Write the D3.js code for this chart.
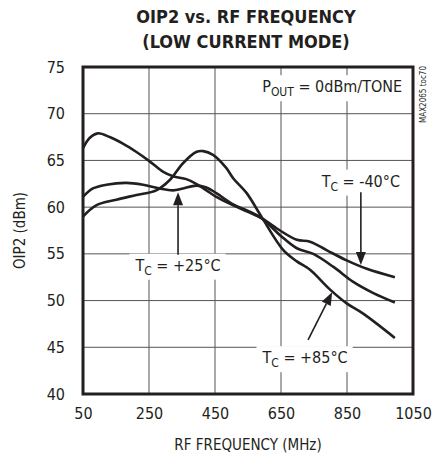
<!DOCTYPE html>
<html>
<head>
<meta charset="utf-8">
<script src="https://cdn.jsdelivr.net/npm/d3@7"></script>
<style>
  body { margin: 0; background: #fff; }
  svg { display: block; }
  text { font-family: 'Liberation Sans Narrow', 'DejaVu Sans Condensed', 'Roboto', sans-serif; fill: #231f20; }
</style>
</head>
<body>
<div id="chart"></div>
<script>
// values (MHz, dBm)
const freqM40 = [50, 70, 95, 131, 171, 212, 252, 292, 323, 363, 393, 424, 454, 505, 550, 592, 647, 698, 738, 788, 849, 910, 995];
const oipM40 = [66.3, 67.4, 67.9, 67.5, 66.8, 65.9, 64.9, 63.8, 63.3, 63.0, 62.5, 61.8, 61.1, 60.2, 59.5, 58.8, 57.5, 56.5, 56.3, 55.4, 54.3, 53.4, 52.5];

const freqP25 = [50, 80, 121, 181, 232, 282, 323, 353, 393, 424, 454, 505, 550, 592, 647, 698, 748, 809, 869, 930, 995];
const oipP25 = [61.1, 62.0, 62.4, 62.6, 62.4, 62.0, 61.8, 62.0, 62.3, 62.1, 61.5, 60.3, 59.6, 58.8, 57.0, 55.6, 55.0, 53.6, 52.0, 50.8, 49.8];

const freqP85 = [50, 90, 151, 212, 272, 313, 353, 393, 414, 444, 484, 505, 546, 592, 657, 698, 738, 798, 849, 899, 995];
const oipP85 = [59.0, 60.2, 60.8, 61.3, 61.8, 62.9, 64.7, 65.9, 66.0, 65.6, 64.2, 63.1, 61.5, 58.9, 55.4, 54.2, 53.3, 51.2, 49.7, 48.6, 46.0];

const xTicks = [50, 250, 450, 650, 850, 1050];
const yTicks = [40, 45, 50, 55, 60, 65, 70, 75];

const state = {
  width: 443,
  height: 454,
  margin: { top: 67, right: 30, bottom: 60, left: 83 },
  ink: '#231f20',
};

const svg = d3.select('#chart').append('svg')
  .attr('width', state.width)
  .attr('height', state.height);

const x = d3.scaleLinear().domain([50, 1050])
  .range([state.margin.left, state.width - state.margin.right]);
const y = d3.scaleLinear().domain([40, 75])
  .range([state.height - state.margin.bottom, state.margin.top]);

// title
svg.append('text')
  .attr('x', 246).attr('y', 23)
  .attr('text-anchor', 'middle')
  .style('font-size', '18px').style('font-weight', 'bold')
  .text('OIP2 vs. RF FREQUENCY');
svg.append('text')
  .attr('x', 246).attr('y', 48)
  .attr('text-anchor', 'middle')
  .style('font-size', '18px').style('font-weight', 'bold')
  .text('(LOW CURRENT MODE)');

// grid
const grid = svg.append('g').attr('class', 'grid');
grid.selectAll('line.h')
  .data(yTicks.slice(1, -1))
  .enter().append('line')
  .attr('x1', x(50)).attr('x2', x(1050))
  .attr('y1', d => y(d)).attr('y2', d => y(d))
  .attr('stroke', '#555').attr('stroke-width', 1);
grid.selectAll('line.v')
  .data(xTicks.slice(1, -1))
  .enter().append('line')
  .attr('y1', y(40)).attr('y2', y(75))
  .attr('x1', d => x(d)).attr('x2', d => x(d))
  .attr('stroke', '#555').attr('stroke-width', 1);

// axes (labels only)
const xAxis = d3.axisBottom(x).tickValues(xTicks).tickFormat(d3.format('d'))
  .tickSize(0).tickPadding(14);
const yAxis = d3.axisLeft(y).tickValues(yTicks).tickFormat(d3.format('d'))
  .tickSize(0).tickPadding(18);

svg.append('g')
  .attr('transform', `translate(0,${y(40)})`)
  .call(xAxis)
  .call(g => g.select('.domain').remove())
  .selectAll('text').style('font-size', '16px').attr('fill', state.ink);

svg.append('g')
  .attr('transform', `translate(${x(50)},0)`)
  .call(yAxis)
  .call(g => g.select('.domain').remove())
  .selectAll('text').style('font-size', '16px').attr('fill', state.ink);

svg.append('text')
  .attr('x', 248).attr('y', 450)
  .attr('text-anchor', 'middle')
  .style('font-size', '15px')
  .text('RF FREQUENCY (MHz)');

svg.append('text')
  .attr('transform', `translate(20,${y(57.5)}) rotate(-90)`)
  .attr('text-anchor', 'middle')
  .attr('dy', '0.35em')
  .style('font-size', '15px')
  .text('OIP2 (dBm)');

svg.append('text')
  .attr('transform', `translate(${x(1050) + 10},${y(75) - 1}) rotate(-90)`)
  .attr('text-anchor', 'end')
  .attr('dy', '0.35em')
  .style('font-size', '8px')
  .text('MAX2065 toc70');

// label boxes that knock out the grid
function label(parts, fx, fy, anchor) {
  const g = svg.append('g');
  const t = g.append('text')
    .attr('x', x(fx)).attr('y', y(fy))
    .attr('dy', '0.35em')
    .attr('text-anchor', anchor)
    .style('font-size', '16px');
  parts.forEach(p => {
    const ts = t.append('tspan').text(p.t);
    if (p.sub) ts.attr('dy', 4).style('font-size', '12px');
    else if (p.back) ts.attr('dy', -4);
  });
  const b = t.node().getBBox();
  g.insert('rect', 'text')
    .attr('x', b.x - 5).attr('y', b.y - 2)
    .attr('width', b.width + 10).attr('height', b.height + 4)
    .attr('fill', '#fff');
}

label([{ t: 'P' }, { t: 'OUT', sub: true }, { t: ' = 0dBm/TONE', back: true }], 1017, 72.9, 'end');
label([{ t: 'T' }, { t: 'C', sub: true }, { t: ' = +25°C', back: true }], 338, 53.8, 'middle');
label([{ t: 'T' }, { t: 'C', sub: true }, { t: ' = -40°C', back: true }], 892, 62.8, 'middle');
label([{ t: 'T' }, { t: 'C', sub: true }, { t: ' = +85°C', back: true }], 723, 43.9, 'middle');

// curves
const series = [
  { name: '-40', f: freqM40, v: oipM40 },
  { name: '+25', f: freqP25, v: oipP25 },
  { name: '+85', f: freqP85, v: oipP85 },
];
const line = d3.line()
  .x(d => x(d[0]))
  .y(d => y(d[1]))
  .curve(d3.curveCatmullRom.alpha(0.5));

svg.append('g').selectAll('path.curve')
  .data(series)
  .enter().append('path')
  .attr('class', 'curve')
  .attr('d', d => line(d.f.map((f, i) => [f, d.v[i]])))
  .attr('fill', 'none')
  .attr('stroke', state.ink)
  .attr('stroke-width', 2.6)
  .attr('stroke-linejoin', 'round');

// arrows
const arrows = [
  { from: [338, 54.9], to: [338, 61.6] },
  { from: [892, 61.6], to: [892, 53.8] },
  { from: [732, 45.8], to: [805, 50.9] },
];
arrows.forEach(a => {
  const x0 = x(a.from[0]), y0 = y(a.from[1]);
  const x1 = x(a.to[0]), y1 = y(a.to[1]);
  const ang = Math.atan2(y1 - y0, x1 - x0);
  const len = 13, half = 5;
  const bx = x1 - len * Math.cos(ang), by = y1 - len * Math.sin(ang);
  svg.append('line')
    .attr('x1', x0).attr('y1', y0).attr('x2', bx).attr('y2', by)
    .attr('stroke', state.ink).attr('stroke-width', 1.6);
  const px = -Math.sin(ang) * half, py = Math.cos(ang) * half;
  svg.append('path')
    .attr('d', `M${x1},${y1}L${bx + px},${by + py}L${bx - px},${by - py}Z`)
    .attr('fill', state.ink);
});

// frame
svg.append('rect')
  .attr('x', x(50)).attr('y', y(75))
  .attr('width', x(1050) - x(50)).attr('height', y(40) - y(75))
  .attr('fill', 'none')
  .attr('stroke', state.ink)
  .attr('stroke-width', 3);
</script>
</body>
</html>
